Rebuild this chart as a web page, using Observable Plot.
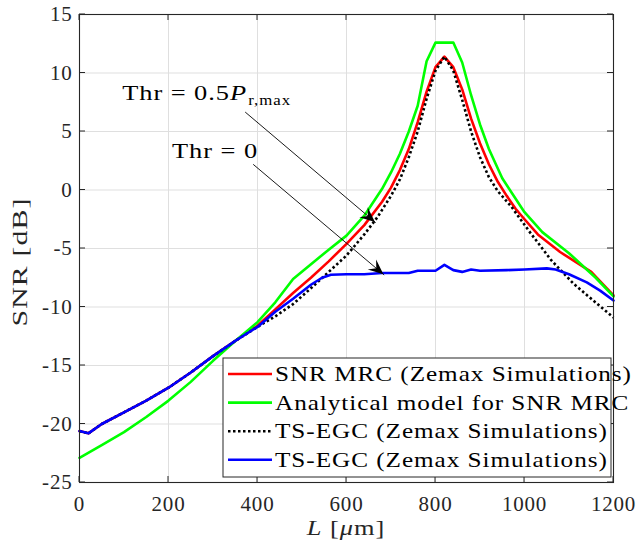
<!DOCTYPE html>
<html><head><meta charset="utf-8">
<script src="https://cdn.jsdelivr.net/npm/d3@7"></script>
<script src="https://cdn.jsdelivr.net/npm/@observablehq/plot@0.6"></script>
<style>
html,body{margin:0;padding:0;background:#fff;}
#chart{width:636px;height:550px;}
#chart svg text{letter-spacing:0.8px;}
</style></head><body><div id="chart"></div>
<script>
// ---------- data ----------
const xTicks = [0, 200, 400, 600, 800, 1000, 1200];
const yTicks = [-25, -20, -15, -10, -5, 0, 5, 10, 15];

const seriesNames = [
  "SNR MRC (Zemax Simulations)",
  "Analytical model for SNR MRC",
  "TS-EGC (Zemax Simulations)",
  "TS-EGC (Zemax Simulations)"
];

// SNR MRC (Zemax simulations) - red
const mrcL   = [0, 20, 50, 100, 150, 200, 250, 300, 350, 400, 440, 480, 520, 560, 600, 640, 680, 700, 720, 740, 760, 780, 800, 820, 840, 860, 880, 900, 920, 940, 960, 980, 1000, 1030, 1080, 1150, 1200];
const mrcSNR = [-20.6, -20.8, -20.0, -19.0, -18.0, -16.9, -15.6, -14.2, -12.9, -11.6, -10.2, -8.8, -7.5, -6.1, -4.6, -3.0, -1.0, 0.2, 1.7, 3.5, 5.8, 8.4, 10.5, 11.4, 10.5, 8.6, 6.1, 4.0, 2.2, 0.7, -0.5, -1.6, -2.5, -3.8, -5.3, -7.0, -9.0];

// Analytical model for SNR MRC - green
const modelL   = [0, 50, 100, 150, 200, 250, 300, 350, 400, 440, 480, 560, 600, 640, 680, 700, 720, 740, 760, 780, 800, 840, 860, 880, 900, 920, 950, 1000, 1040, 1100, 1160, 1200];
const modelSNR = [-22.9, -21.8, -20.7, -19.4, -18.0, -16.4, -14.6, -12.9, -11.3, -9.6, -7.6, -5.1, -3.9, -2.2, 0.1, 1.5, 3.1, 5.0, 7.2, 11.0, 12.6, 12.6, 10.9, 8.1, 5.6, 3.5, 1.0, -1.9, -3.6, -5.4, -7.5, -9.1];

// TS-EGC (Zemax simulations), Thr = 0.5 P_r,max - black dotted
const egcHalfL   = [0, 20, 50, 100, 150, 200, 250, 300, 350, 400, 440, 480, 520, 560, 600, 640, 670, 700, 720, 740, 760, 780, 800, 820, 840, 860, 880, 900, 920, 940, 970, 1010, 1060, 1110, 1150, 1200];
const egcHalfSNR = [-20.6, -20.8, -20.0, -19.0, -18.0, -16.9, -15.6, -14.2, -12.9, -11.7, -10.8, -9.75, -8.4, -7.0, -5.6, -3.8, -2.3, -0.5, 0.9, 2.8, 5.0, 7.8, 10.2, 11.4, 10.2, 7.7, 5.0, 2.8, 1.1, -0.1, -1.4, -3.5, -6.0, -8.0, -9.3, -10.9];

// TS-EGC (Zemax simulations), Thr = 0 - blue
const egcZeroL   = [0, 20, 50, 100, 150, 200, 250, 300, 350, 400, 440, 480, 520, 545, 565, 600, 640, 680, 740, 760, 800, 820, 840, 860, 880, 900, 960, 1000, 1050, 1070, 1100, 1140, 1170, 1200];
const egcZeroSNR = [-20.6, -20.8, -20.0, -19.0, -18.0, -16.9, -15.6, -14.2, -12.9, -11.7, -10.4, -9.3, -8.1, -7.5, -7.25, -7.2, -7.2, -7.1, -7.1, -6.9, -6.9, -6.4, -6.85, -7.0, -6.8, -6.9, -6.85, -6.8, -6.7, -6.8, -7.2, -7.9, -8.6, -9.45];

// annotations (data coordinates)
const arrowFromL   = [373, 391];
const arrowFromSNR = [6.64, 2.17];
const arrowToL     = [665, 684];
const arrowToSNR   = [-2.77, -7.24];
const noteL   = [97, 209];
const noteSNR = [7.64, 2.68];

// ---------- styling ----------
const colors = ["#ff0000", "#00ff00", "#000000", "#0000ff"];
const dashes = [null, null, "2.5,2.5", null];
const axisColor = "#262626";
const gridColor = "#dfdfdf";
const serif = "Liberation Serif, Times New Roman, serif";

const rows = (L, S) => L.map((l, i) => ({L: l, SNR: S[i]}));
const series = [rows(mrcL, mrcSNR), rows(modelL, modelSNR), rows(egcHalfL, egcHalfSNR), rows(egcZeroL, egcZeroSNR)];
const arrows = arrowFromL.map((_, i) => ({x1: arrowFromL[i], y1: arrowFromSNR[i], x2: arrowToL[i], y2: arrowToSNR[i]}));

function overlay(index, scales, values, dims) {
  const {x, y} = scales;
  const g = d3.create("svg:g").attr("text-anchor", "start");
  const left = dims.marginLeft, right = dims.width - dims.marginRight;
  const top = dims.marginTop, bottom = dims.height - dims.marginBottom;
  const tk = 6;
  const tg = g.append("g").attr("stroke", axisColor).attr("stroke-width", 1);
  for (const t of xTicks) {
    const px = x(t);
    tg.append("line").attr("x1", px).attr("x2", px).attr("y1", bottom).attr("y2", bottom - tk);
    tg.append("line").attr("x1", px).attr("x2", px).attr("y1", top).attr("y2", top + tk);
  }
  for (const t of yTicks) {
    const py = y(t);
    tg.append("line").attr("y1", py).attr("y2", py).attr("x1", left).attr("x2", left + tk);
    tg.append("line").attr("y1", py).attr("y2", py).attr("x1", right).attr("x2", right - tk);
  }
  // arrow heads
  for (const a of arrows) {
    const x1 = x(a.x1), y1 = y(a.y1), x2 = x(a.x2), y2 = y(a.y2);
    const ang = Math.atan2(y2 - y1, x2 - x1) * 180 / Math.PI;
    const hl = 15, hw = 6.5;
    g.append("path")
      .attr("d", `M0,0L${-hl},${-hw}L${-hl * 0.62},0L${-hl},${hw}Z`)
      .attr("fill", "black")
      .attr("transform", `translate(${x2},${y2}) rotate(${ang})`);
  }
  // notes
  const n1 = g.append("text").attr("font-family", serif).attr("font-size", 22).attr("fill", "black")
    .attr("letter-spacing", 0).attr("text-anchor", "start")
    .attr("transform", `translate(${x(noteL[0])},${y(noteSNR[0])}) scale(1.2,1)`);
  n1.append("tspan").attr("xml:space", "preserve").text("Thr = 0.5");
  n1.append("tspan").attr("font-style", "italic").text("P");
  n1.append("tspan").attr("font-size", 14).attr("dy", 5).attr("dx", 1).text("r,max");
  g.append("text").attr("font-family", serif).attr("font-size", 22).attr("fill", "black")
    .attr("letter-spacing", 0).attr("text-anchor", "start")
    .attr("transform", `translate(${x(noteL[1])},${y(noteSNR[1])}) scale(1.2,1)`)
    .text("Thr = 0");
  // legend
  const bw = 388, bh = 119;
  const bx = right - 2 - bw, by = bottom - 5 - bh;
  const lg = g.append("g");
  lg.append("rect").attr("x", bx).attr("y", by).attr("width", bw).attr("height", bh)
    .attr("fill", "white").attr("stroke", axisColor).attr("stroke-width", 1);
  seriesNames.forEach((name, i) => {
    const cy = by + 16 + i * 28.6;
    const ln = lg.append("line").attr("x1", bx + 5).attr("x2", bx + 49).attr("y1", cy).attr("y2", cy)
      .attr("stroke", colors[i]).attr("stroke-width", 2.6);
    if (dashes[i]) ln.attr("stroke-dasharray", dashes[i]);
    lg.append("text").attr("font-family", serif).attr("font-size", 21).attr("fill", "black")
      .attr("letter-spacing", 0).attr("text-anchor", "start")
      .attr("transform", `translate(${bx + 52},${cy + 7}) scale(1.2,1)`)
      .text(name);
  });
  // axis titles
  const xl = g.append("text").attr("font-family", serif).attr("font-size", 22).attr("fill", axisColor)
    .attr("letter-spacing", 0)
    .attr("text-anchor", "middle")
    .attr("transform", `translate(${(left + right) / 2},${dims.height - 15}) scale(1.2,1)`);
  xl.append("tspan").attr("font-style", "italic").text("L");
  xl.append("tspan").attr("xml:space", "preserve").text(" [");
  xl.append("tspan").attr("font-style", "italic").text("μ");
  xl.append("tspan").text("m]");
  g.append("text").attr("font-family", serif).attr("font-size", 22).attr("fill", axisColor)
    .attr("letter-spacing", 0)
    .attr("text-anchor", "middle")
    .attr("textLength", 129).attr("lengthAdjust", "spacingAndGlyphs")
    .attr("transform", `translate(${left - 52},${(top + bottom) / 2 + 14}) rotate(-90)`)
    .text("SNR [dB]");
  return g.node();
}

const chart = Plot.plot({
  width: 636,
  height: 550,
  marginLeft: 79,
  marginRight: 23,
  marginTop: 14,
  marginBottom: 68,
  x: {domain: [0, 1200]},
  y: {domain: [-25, 15]},
  style: {fontFamily: serif, fontSize: "21px", color: axisColor, background: "white", overflow: "visible"},
  marks: [
    Plot.gridX({ticks: xTicks, stroke: gridColor, strokeOpacity: 1, strokeWidth: 1}),
    Plot.gridY({ticks: yTicks, stroke: gridColor, strokeOpacity: 1, strokeWidth: 1}),
    Plot.axisX({ticks: xTicks, tickSize: 0, tickPadding: 14, label: null, tickFormat: d => String(d)}),
    Plot.axisY({ticks: yTicks, tickSize: 0, tickPadding: 7, label: null, tickFormat: d => String(d)}),
    ...series.map((data, i) => Plot.line(data, {
      x: "L", y: "SNR", stroke: colors[i], strokeWidth: 2.6,
      strokeDasharray: dashes[i] ?? undefined,
      strokeLinecap: dashes[i] ? "butt" : "round",
      strokeLinejoin: "round"
    })),
    Plot.arrow(arrows, {x1: "x1", y1: "y1", x2: "x2", y2: "y2", stroke: "black", strokeWidth: 0.9, headLength: 0, bend: 0}),
    Plot.frame({stroke: axisColor, strokeWidth: 1.1}),
    overlay
  ]
});
document.getElementById("chart").appendChild(chart);
</script>
</body></html>
